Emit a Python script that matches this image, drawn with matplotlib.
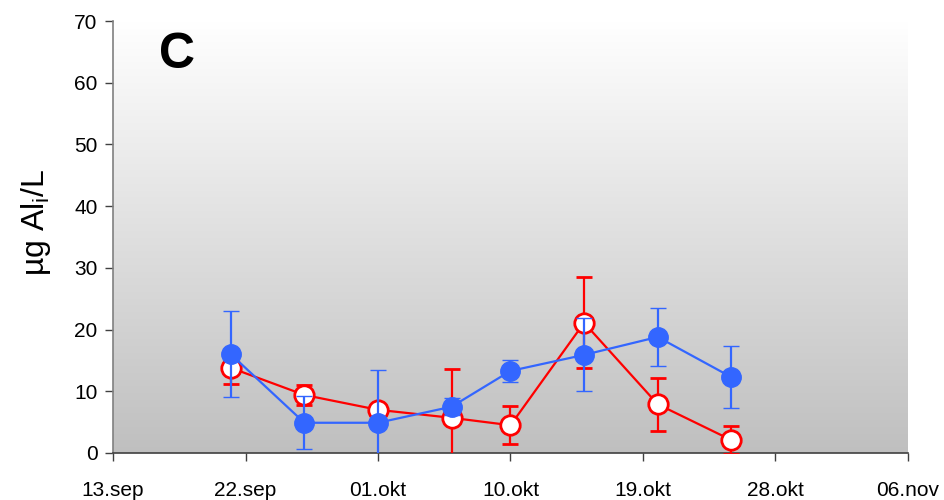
import numpy as np
import matplotlib
matplotlib.use("Agg")
import matplotlib.pyplot as plt
import matplotlib.dates as mdates
from datetime import datetime

plt.rcParams['font.family'] = ['Liberation Sans', 'DejaVu Sans']

# Data
dates = ["2006-09-21", "2006-09-26", "2006-10-01", "2006-10-06",
         "2006-10-10", "2006-10-15", "2006-10-20", "2006-10-25"]
blue_vals = [16.0, 4.9, 4.9, 7.5, 13.3, 15.9, 18.8, 12.3]
blue_err = [7.0, 4.3, 8.6, 1.4, 1.8, 5.9, 4.7, 5.0]
red_vals = [13.8, 9.4, 7.0, 5.7, 4.5, 21.1, 7.9, 2.1]
red_err = [2.6, 1.6, 0.8, 7.9, 3.1, 7.4, 4.3, 2.3]
xtick_dates = ["2006-09-13", "2006-09-22", "2006-10-01", "2006-10-10",
               "2006-10-19", "2006-10-28", "2006-11-06"]
xtick_labels = ["13.sep", "22.sep", "01.okt", "10.okt", "19.okt", "28.okt", "06.nov"]
yticks = [0, 10, 20, 30, 40, 50, 60, 70]

x = mdates.date2num([datetime.strptime(d, "%Y-%m-%d") for d in dates])
xt = mdates.date2num([datetime.strptime(d, "%Y-%m-%d") for d in xtick_dates])

fig = plt.figure(figsize=(9.45, 5.0), dpi=100)
ax = fig.add_axes([0.1196, 0.094, 0.8412, 0.864])

ax.set_xlim(xt[0], xt[-1])
ax.set_ylim(0, 70)

# gradient background
grad = np.linspace(1.0, 0.0, 256).reshape(-1, 1)
top = np.array([1.0, 1.0, 1.0])
bot = np.array([0.75, 0.75, 0.75])
img = bot + (top - bot) * grad[..., None]
img = img.reshape(256, 1, 3)
ax.imshow(img, extent=[xt[0], xt[-1], 0, 70], aspect='auto', zorder=0, origin='upper')

blue = '#3366FF'
red = '#FF0000'

ax.errorbar(x, red_vals, yerr=red_err, color=red, lw=1.6, elinewidth=1.6,
            capsize=6, capthick=1.6, marker='o', ms=14, mfc='white', mec=red,
            mew=2.0, zorder=3)
ax.errorbar(x, blue_vals, yerr=blue_err, color=blue, lw=1.6, elinewidth=1.6,
            capsize=6, capthick=1.4, marker='o', ms=14, mfc=blue, mec=blue,
            mew=1.0, zorder=4)

ax.set_xticks(xt)
ax.set_xticklabels(xtick_labels)
ax.set_yticks(yticks)
ax.tick_params(axis='both', labelsize=15, direction='out', length=6, width=1,
               color='#404040')
ax.tick_params(axis='x', pad=14)
ax.tick_params(axis='y', pad=5)

for s in ['top', 'right']:
    ax.spines[s].set_visible(False)
ax.spines['left'].set_color('#808080')
ax.spines['bottom'].set_color('#404040')
ax.spines['left'].set_linewidth(1.2)
ax.spines['bottom'].set_linewidth(1.2)

ax.set_ylabel('µg Al$_\\mathregular{i}$/L', fontsize=23)
ax.yaxis.set_label_coords(-0.076, 0.535)
ax.text(0.058, 0.975, 'C', transform=ax.transAxes, fontsize=36, fontweight='bold',
        ha='left', va='top')

fig.savefig('out.png', dpi=100)
